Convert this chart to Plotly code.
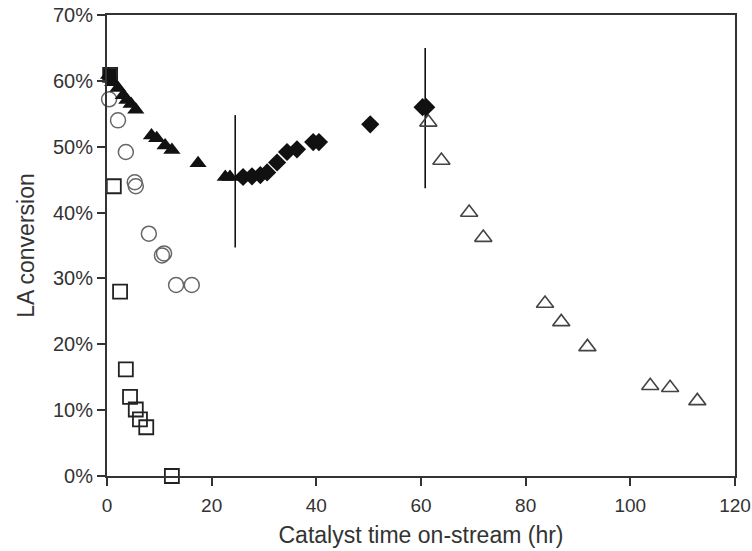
import plotly.graph_objects as go

# Open squares
sq_x = [0.6, 1.3, 2.5, 3.6, 4.4, 5.5, 6.3, 7.5, 12.4]
sq_y = [60.9, 44.0, 28.0, 16.2, 12.0, 10.1, 8.6, 7.4, 0.0]

# Filled square (start point)
fsq_x = [0.6]
fsq_y = [60.9]

# Open circles
ci_x = [0.4, 2.1, 3.6, 5.3, 5.5, 8.0, 10.5, 10.9, 13.2, 16.2]
ci_y = [57.2, 54.0, 49.2, 44.6, 44.0, 36.8, 33.5, 33.8, 29.0, 29.0]

# Filled triangles
tr_x = [0.3, 1.1, 2.1, 3.1, 3.8, 4.6, 5.5, 8.5, 9.5, 11.1, 12.4, 17.4, 22.6, 23.5]
tr_y = [60.9, 59.8, 58.9, 57.8, 57.1, 56.5, 55.6, 51.7, 51.3, 50.2, 49.5, 47.5, 45.4, 45.4]

# Filled diamonds
di_x = [26.0, 27.7, 29.3, 30.6, 32.5, 34.4, 36.3, 39.4, 40.5, 50.3, 60.3, 61.0]
di_y = [45.4, 45.5, 45.7, 46.1, 47.6, 49.2, 49.6, 50.7, 50.7, 53.4, 56.0, 56.0]

# Open triangles
ot_x = [61.4, 63.9, 69.2, 71.9, 83.7, 86.8, 91.8, 103.8, 107.6, 112.8]
ot_y = [53.7, 47.9, 40.0, 36.2, 26.2, 23.4, 19.6, 13.7, 13.4, 11.4]

# Vertical marker lines
vl1_x = [24.5, 24.5]
vl1_y = [34.7, 54.8]
vl2_x = [60.8, 60.8]
vl2_y = [43.7, 65.0]

x_ticks = [0, 20, 40, 60, 80, 100, 120]
y_ticks = [0, 10, 20, 30, 40, 50, 60, 70]
y_tick_labels = ["0%", "10%", "20%", "30%", "40%", "50%", "60%", "70%"]

FONT = "Liberation Sans, Arial, sans-serif"

fig = go.Figure()

common = dict(mode="markers", cliponaxis=False, showlegend=False, hoverinfo="skip")

fig.add_trace(go.Scatter(x=vl1_x, y=vl1_y, mode="lines", line=dict(color="#111", width=1.6),
                         showlegend=False, cliponaxis=False, hoverinfo="skip"))
fig.add_trace(go.Scatter(x=vl2_x, y=vl2_y, mode="lines", line=dict(color="#111", width=1.6),
                         showlegend=False, cliponaxis=False, hoverinfo="skip"))

fig.add_trace(go.Scatter(x=sq_x, y=sq_y, marker=dict(symbol="square-open", size=14,
                         color="#222", line=dict(width=1.8)), **common))
fig.add_trace(go.Scatter(x=ci_x, y=ci_y, marker=dict(symbol="circle-open", size=15,
                         color="#666", line=dict(width=1.5)), **common))
fig.add_trace(go.Scatter(x=ot_x, y=ot_y, marker=dict(symbol="triangle-up-open", size=15,
                         color="#444", line=dict(width=1.6)), **common))
fig.add_trace(go.Scatter(x=tr_x, y=tr_y, marker=dict(symbol="triangle-up", size=15,
                         color="#111"), **common))
fig.add_trace(go.Scatter(x=di_x, y=di_y, marker=dict(symbol="diamond", size=14,
                         color="#111"), **common))
fig.add_trace(go.Scatter(x=fsq_x, y=fsq_y, marker=dict(symbol="square", size=13,
                         color="#111"), **common))

fig.update_layout(
    width=752, height=551, plot_bgcolor="white", paper_bgcolor="white",
    margin=dict(l=107, r=17, t=15, b=75, autoexpand=False),
    font=dict(family=FONT, size=19, color="#333"),
    xaxis=dict(range=[0, 120], tickmode="array", tickvals=x_ticks,
               showline=True, linecolor="#333", linewidth=2, mirror=True,
               ticks="outside", ticklen=8, tickwidth=1.5, tickcolor="#333",
               ticklabelstandoff=3, ticklabeloverflow="allow",
               showgrid=False, zeroline=False, automargin=False,
               tickfont=dict(family=FONT, size=19, color="#333"),
               title=dict(text="Catalyst time on-stream (hr)", standoff=12,
                          font=dict(family=FONT, size=23, color="#333"))),
    yaxis=dict(range=[0, 70], tickmode="array", tickvals=y_ticks, ticktext=y_tick_labels,
               showline=True, linecolor="#333", linewidth=2, mirror=True,
               ticks="outside", ticklen=8, tickwidth=1.5, tickcolor="#333",
               ticklabeloverflow="allow",
               showgrid=False, zeroline=False, automargin=False,
               tickfont=dict(family=FONT, size=20, color="#333"),
               title=dict(text="LA conversion", standoff=12,
                          font=dict(family=FONT, size=23, color="#333"))),
)

fig.write_html("out.html", config={"displayModeBar": False},
               post_script="document.body.style.margin='0px';")
